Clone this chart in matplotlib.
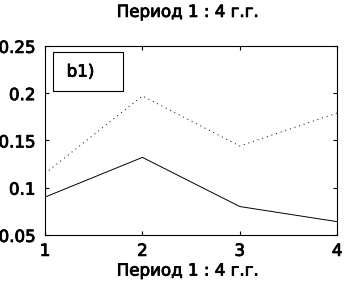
import matplotlib
matplotlib.use("Agg")
import matplotlib.pyplot as plt
import matplotlib.patheffects as pe
from matplotlib.patches import Rectangle

# Данные
periods = [1, 2, 3, 4]
series_solid = [0.090, 0.132, 0.080, 0.064]
series_dotted = [0.115, 0.197, 0.144, 0.179]
yticks = [0.05, 0.1, 0.15, 0.2, 0.25]
ytick_labels = ["0.05", "0.1", "0.15", "0.2", "0.25"]
title_text = "Период 1 : 4 г.г."
panel_label = "b1)"

plt.rcParams["font.family"] = ["DejaVu Sans"]
plt.rcParams["font.size"] = 12

# утолщаем шрифт, как в исходной картинке
thick = [pe.withStroke(linewidth=0.6, foreground="black")]

fig = plt.figure(figsize=(3.44, 2.83), dpi=100)
ax = fig.add_axes([0.131, 0.170, 0.849, 0.668])

ax.plot(periods, series_solid, color="black", lw=0.7)
ax.plot(periods, series_dotted, color="black", lw=0.7, linestyle=(0, (1, 4)))

ax.set_xlim(1, 4)
ax.set_ylim(0.05, 0.25)
ax.set_xticks(periods)
ax.set_yticks(yticks)
ax.set_yticklabels(ytick_labels)
ax.tick_params(direction="in", length=3, width=0.8, top=True, right=True)
ax.tick_params(axis="x", pad=5)
ax.tick_params(axis="y", pad=7)
for s in ax.spines.values():
    s.set_linewidth(0.8)
for lab in ax.get_xticklabels() + ax.get_yticklabels():
    lab.set_path_effects(thick)

# заголовок и подпись оси ставим по пикселям картинки
fig.text(0.545, 0.958, title_text, ha="center", va="center", path_effects=thick)
fig.text(0.545, 0.044, title_text, ha="center", va="center", path_effects=thick)

# рамка с подписью панели
ax.add_patch(Rectangle((0.026, 0.763), 0.24, 0.205, transform=ax.transAxes,
                       fill=False, lw=0.8, color="black"))
ax.text(0.074, 0.864, panel_label, transform=ax.transAxes,
        va="center", ha="left", path_effects=thick)

fig.savefig("out.png", dpi=100)
